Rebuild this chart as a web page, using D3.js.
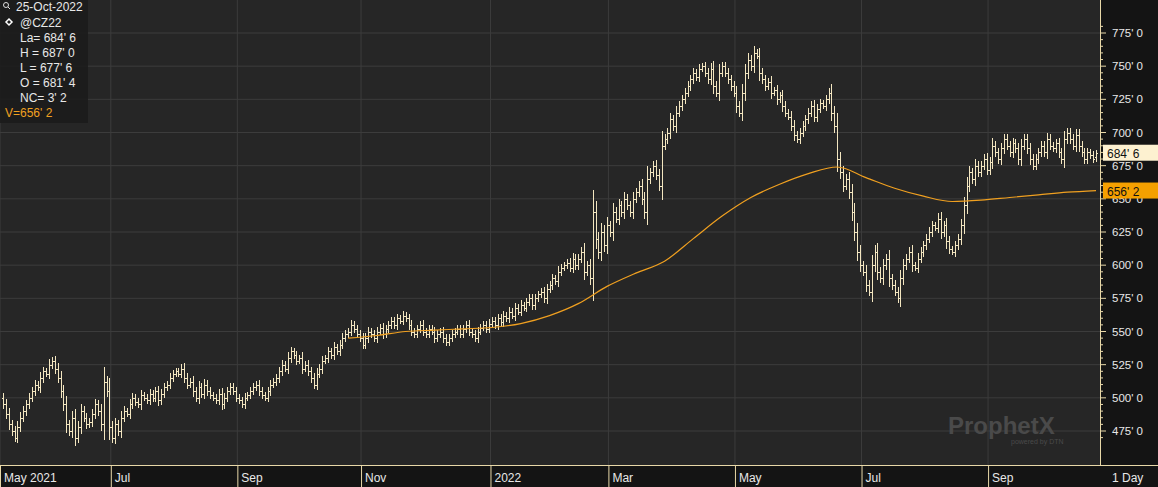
<!DOCTYPE html>
<html><head><meta charset="utf-8">
<script src="https://cdn.jsdelivr.net/npm/d3@7"></script>
<style>body{margin:0;background:#262626}svg{display:block;font-family:"Liberation Sans",Arial,sans-serif}</style>
</head><body><svg id="c" width="1158" height="487"></svg>
<script>
const startDate = "2021-05-10";
const closes = [
495,488,480,475,470,478,485,490,495,500,
505,510,508,515,520,518,525,528,522,515,
505,495,480,475,485,470,478,490,485,480,
482,488,495,490,480,512,505,478,470,480,
475,485,490,488,495,500,497,495,502,500,
498,503,500,505,498,503,508,510,515,518,
520,518,522,515,510,512,505,500,508,503,
510,505,502,500,498,503,495,500,505,508,
505,500,498,495,500,502,505,508,510,505,
502,500,505,510,512,515,520,525,522,530,
535,532,528,530,522,525,520,515,510,518,
522,528,530,535,532,538,535,540,545,548,
550,555,552,548,545,540,545,550,548,545,
550,553,548,552,555,558,555,560,558,562,
560,555,550,548,552,555,550,548,552,550,
545,548,550,545,542,545,548,550,552,548,
552,555,550,548,545,550,553,555,552,556,
558,555,560,557,562,560,565,562,568,565,
570,568,572,575,570,575,578,580,575,582,
585,590,588,595,598,600,602,598,605,600,
605,610,595,600,590,640,620,610,625,615,
630,625,640,635,645,640,650,645,640,650,
655,660,650,640,665,670,675,668,660,690,
695,700,710,705,715,720,725,730,735,740,
745,742,748,750,745,740,748,735,730,745,
750,745,740,735,730,720,715,730,745,755,
750,760,758,745,740,735,738,730,732,725,
728,720,715,712,705,698,695,700,705,710,
715,720,712,718,722,720,725,730,715,705,
680,670,660,665,655,640,625,610,600,595,
585,580,600,610,595,590,600,605,590,585,
580,575,590,600,605,610,600,598,605,610,
615,620,625,630,628,635,625,630,618,612,
610,615,620,630,645,660,670,665,675,670,
675,680,672,678,690,685,680,688,695,690,
685,692,688,680,690,695,688,680,675,680,
685,690,685,695,690,688,692,685,680,695,
700,695,690,698,690,685,680,685,683,680,
684.75];
// moving-average indicator, at bar indices 120,130,...,380
const maIndex = [120,130,140,150,160,170,180,190,200,210,220,230,240,250,260,270,280,290,300,310,320,330,340,350,360,370,380];
const maValues = [545,547,550,551,552,553,556,562,571,584,594,603,620,637,651,661,669,674,666,658,652,648,649,651,653,655,656.25];
const yTicks = [475,500,525,550,575,600,625,650,675,700,725,750,775];
const monthLabels = ["May 2021","Jul","Sep","Nov","2022","Mar","May","Jul","Sep"];
const legendLines = ["La= 684' 6","H = 687' 0","L = 677' 6","O = 681' 4","NC= 3' 2"];
const maValueLabel = "V=656' 2";

const days=[]; let d=new Date(startDate+"T00:00:00");
while(days.length<closes.length){ if(d.getDay()%6!==0) days.push(new Date(d)); d=d3.timeDay.offset(d,1);}
const bars = closes.map((c,i)=>{const o=i?closes[i-1]:c+5;const r=Math.abs(c-o);return {o,c,h:Math.max(o,c)+2+r*0.3,l:Math.min(o,c)-2-r*0.3};});
const last=bars[bars.length-1]; last.o=681.5; last.h=687; last.l=677.75;

const svg=d3.select("#c"), W=1100, H=465;
const x=d3.scaleLinear().domain([0,closes.length-1]).range([3,1096]);
const y=d3.scaleLinear().domain([475,775]).range([431,33]);
svg.append("rect").attr("width",1158).attr("height",487).attr("fill","#262626");
svg.append("rect").attr("x",W).attr("width",58).attr("height",487).attr("fill","#141414");
svg.append("rect").attr("y",H).attr("width",1158).attr("height",22).attr("fill","#141414");
svg.selectAll(".gy").data(yTicks).join("line").attr("x1",0).attr("x2",W).attr("y1",d=>y(d)).attr("y2",d=>y(d)).attr("stroke","#3c3c3c");
const monthIdx=[0]; for(let i=1;i<days.length;i++) if(days[i].getMonth()!==days[i-1].getMonth() && days[i].getMonth()%2===0) monthIdx.push(i);
const mx = monthIdx.map((i,k)=>k===0?0:x(i)-1.5);
svg.selectAll(".gx").data(mx).join("line").attr("x1",d=>d).attr("x2",d=>d).attr("y1",0).attr("y2",H).attr("stroke","#3c3c3c");
svg.append("text").attr("x",948).attr("y",434).attr("fill","#4a4a4a").attr("font-size",24).attr("font-weight","bold").text("ProphetX");
svg.append("text").attr("x",1011).attr("y",444).attr("fill","#4a4a4a").attr("font-size",7).text("powered by DTN");
const col="#f3e6c0";
const g=svg.append("g").attr("stroke",col).attr("stroke-width",1).attr("shape-rendering","crispEdges");
bars.forEach((b,i)=>{const cx=Math.round(x(i))+0.5;
 g.append("line").attr("x1",cx).attr("x2",cx).attr("y1",y(b.h)).attr("y2",y(b.l));
 g.append("line").attr("x1",cx-1.5).attr("x2",cx).attr("y1",Math.round(y(b.o))+0.5).attr("y2",Math.round(y(b.o))+0.5);
 g.append("line").attr("x1",cx).attr("x2",cx+1.5).attr("y1",Math.round(y(b.c))+0.5).attr("y2",Math.round(y(b.c))+0.5);
});
svg.append("path").datum(maIndex.map((i,k)=>[i,maValues[k]]))
 .attr("d",d3.line().curve(d3.curveMonotoneX).x(p=>x(p[0])).y(p=>y(p[1]))).attr("fill","none").attr("stroke","#f0a020").attr("stroke-width",1.2);
svg.append("line").attr("x1",W+0.5).attr("x2",W+0.5).attr("y1",0).attr("y2",H).attr("stroke","#e8d8a8");
svg.append("line").attr("x1",0).attr("x2",1158).attr("y1",H+0.5).attr("y2",H+0.5).attr("stroke","#e8d8a8");
const fmt=v=>Math.floor(v)+"' "+Math.round((v-Math.floor(v))*8);
const ys=d3.range(470,785,5);
svg.selectAll(".yt").data(ys).join("line").attr("x1",W).attr("x2",d=>W+(d%25===0?6:3)).attr("y1",d=>y(d)).attr("y2",d=>y(d)).attr("stroke","#e8d8a8");
svg.selectAll(".yl").data(yTicks).join("text").attr("x",1112).attr("y",d=>y(d)+4).attr("fill","#e8e8e8").attr("font-size",11.5).text(fmt);
svg.selectAll(".mt").data(mx).join("line").attr("x1",d=>d+0.5).attr("x2",d=>d+0.5).attr("y1",H).attr("y2",487).attr("stroke","#e8d8a8");
svg.selectAll(".ml").data(mx).join("text").attr("x",d=>d+4).attr("y",482).attr("fill","#e8e8e8").attr("font-size",12).text((d,i)=>monthLabels[i]);
svg.append("text").attr("x",1112).attr("y",482).attr("fill","#e8e8e8").attr("font-size",12).text("1 Day");
const box=(v,bg,fg)=>{svg.append("rect").attr("x",1103).attr("y",y(v)-8).attr("width",55).attr("height",16).attr("fill",bg);
 svg.append("text").attr("x",1107).attr("y",y(v)+5).attr("fill",fg).attr("font-size",12).text(fmt(v));};
box(684.75,"#fdf1d0","#111"); box(656.25,"#f5a000","#111");
svg.append("rect").attr("width",88).attr("height",123).attr("fill","#1c1c1c").attr("opacity",0.9);
const lg=svg.append("g").attr("font-size",12).attr("fill","#e8e8e8");
lg.append("circle").attr("cx",6).attr("cy",5).attr("r",2.5).attr("fill","none").attr("stroke","#ddd");
lg.append("line").attr("x1",8).attr("y1",7).attr("x2",10).attr("y2",9).attr("stroke","#ddd");
lg.append("text").attr("x",16).attr("y",11).text("25-Oct-2022");
lg.append("path").attr("d","M9,19 l3,3 l-3,3 l-3,-3z").attr("fill","none").attr("stroke","#fff").attr("stroke-width",1.5);
lg.append("text").attr("x",20).attr("y",27).text("@CZ22");
legendLines.forEach((t,i)=>lg.append("text").attr("x",20).attr("y",42+i*15).text(t));
lg.append("text").attr("x",5).attr("y",117).attr("fill","#f0a020").text(maValueLabel);
</script></body></html>
